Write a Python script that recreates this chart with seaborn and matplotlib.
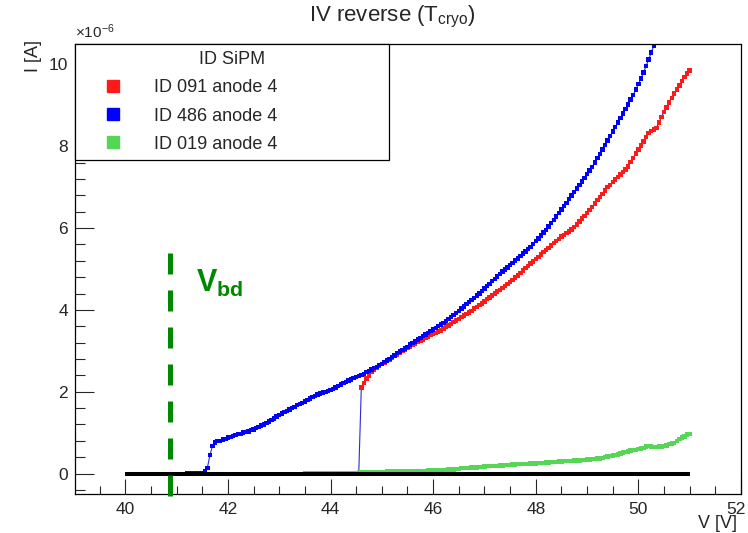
import numpy as np
import pandas as pd
import matplotlib
matplotlib.use("Agg")
import matplotlib.pyplot as plt
from matplotlib.lines import Line2D
from matplotlib.ticker import MultipleLocator
from matplotlib.transforms import ScaledTranslation
import seaborn as sns

# ---- measured reverse IV sweeps (current in units of 1e-6 A, 50 mV steps) ----
v_486 = np.round(np.arange(41.20, 50.30 + 1e-6, 0.05), 2)
i_486 = [
    0.00, 0.00, 0.01, 0.01, 0.01, 0.02, 0.02, 0.05, 0.14, 0.45,
    0.68, 0.76, 0.79, 0.80, 0.83, 0.85, 0.88, 0.90, 0.92, 0.94,
    0.96, 0.97, 1.00, 1.01, 1.03, 1.06, 1.08, 1.12, 1.14, 1.17,
    1.20, 1.24, 1.27, 1.31, 1.35, 1.39, 1.43, 1.47, 1.50, 1.53,
    1.57, 1.60, 1.63, 1.67, 1.70, 1.73, 1.76, 1.80, 1.83, 1.87,
    1.90, 1.93, 1.96, 1.98, 2.00, 2.02, 2.04, 2.07, 2.10, 2.14,
    2.18, 2.21, 2.24, 2.27, 2.30, 2.33, 2.36, 2.38, 2.41, 2.44,
    2.48, 2.51, 2.54, 2.58, 2.61, 2.65, 2.68, 2.72, 2.76, 2.80,
    2.85, 2.89, 2.94, 2.98, 3.02, 3.06, 3.10, 3.15, 3.19, 3.23,
    3.28, 3.32, 3.36, 3.40, 3.44, 3.48, 3.52, 3.56, 3.60, 3.64,
    3.68, 3.73, 3.78, 3.83, 3.88, 3.93, 3.98, 4.03, 4.08, 4.14,
    4.19, 4.24, 4.29, 4.35, 4.40, 4.46, 4.52, 4.58, 4.64, 4.70,
    4.76, 4.82, 4.88, 4.94, 4.99, 5.04, 5.10, 5.15, 5.21, 5.26,
    5.32, 5.38, 5.43, 5.49, 5.54, 5.61, 5.68, 5.75, 5.82, 5.89,
    5.96, 6.04, 6.12, 6.20, 6.28, 6.37, 6.45, 6.54, 6.62, 6.71,
    6.80, 6.88, 6.97, 7.06, 7.14, 7.23, 7.32, 7.41, 7.50, 7.60,
    7.71, 7.81, 7.92, 8.03, 8.14, 8.25, 8.36, 8.47, 8.58, 8.69,
    8.80, 8.91, 9.02, 9.14, 9.25, 9.39, 9.52, 9.66, 9.80, 9.96,
    10.12, 10.29, 10.45,
]

v_091 = np.round(np.arange(44.50, 51.00 + 1e-6, 0.05), 2)
i_091 = [
    0.00, 0.00, 2.10, 2.22, 2.32, 2.40, 2.48, 2.54, 2.59, 2.64,
    2.68, 2.71, 2.75, 2.79, 2.83, 2.87, 2.91, 2.95, 2.99, 3.03,
    3.07, 3.10, 3.14, 3.18, 3.21, 3.25, 3.28, 3.31, 3.35, 3.38,
    3.41, 3.44, 3.47, 3.50, 3.55, 3.58, 3.62, 3.66, 3.70, 3.74,
    3.78, 3.82, 3.86, 3.90, 3.94, 3.98, 4.03, 4.07, 4.12, 4.16,
    4.21, 4.26, 4.30, 4.35, 4.40, 4.45, 4.49, 4.54, 4.58, 4.63,
    4.68, 4.73, 4.79, 4.84, 4.90, 4.96, 5.02, 5.07, 5.13, 5.18,
    5.24, 5.30, 5.35, 5.41, 5.46, 5.52, 5.57, 5.63, 5.68, 5.74,
    5.79, 5.83, 5.88, 5.92, 5.97, 6.02, 6.09, 6.16, 6.23, 6.30,
    6.37, 6.44, 6.52, 6.60, 6.68, 6.76, 6.84, 6.92, 7.00, 7.06,
    7.13, 7.19, 7.25, 7.31, 7.37, 7.43, 7.51, 7.62, 7.72, 7.82,
    7.92, 8.02, 8.12, 8.23, 8.33, 8.37, 8.41, 8.45, 8.58, 8.72,
    8.84, 8.95, 9.07, 9.18, 9.29, 9.39, 9.49, 9.59, 9.69, 9.78,
    9.85,
]

v_019 = np.round(np.arange(43.50, 51.00 + 1e-6, 0.05), 2)
i_019 = [
    0.02,
    0.02, 0.02, 0.02, 0.02, 0.02, 0.02, 0.02, 0.02, 0.02, 0.02,
    0.02, 0.02, 0.02, 0.02, 0.02, 0.02, 0.02, 0.02, 0.02, 0.02,
    0.03, 0.03, 0.03, 0.03, 0.03, 0.03, 0.03, 0.03, 0.03, 0.03,
    0.04, 0.05, 0.05, 0.05, 0.05, 0.05, 0.05, 0.05, 0.05, 0.05,
    0.05, 0.05, 0.05, 0.06, 0.06, 0.06, 0.06, 0.07, 0.08, 0.08,
    0.08, 0.08, 0.09, 0.09, 0.09, 0.10, 0.10, 0.10, 0.11, 0.11,
    0.13, 0.14, 0.14, 0.14, 0.15, 0.15, 0.15, 0.16, 0.16, 0.17,
    0.18, 0.18, 0.19, 0.19, 0.19, 0.20, 0.20, 0.21, 0.21, 0.21,
    0.22, 0.22, 0.23, 0.23, 0.23, 0.24, 0.24, 0.25, 0.25, 0.25,
    0.26, 0.26, 0.26, 0.27, 0.27, 0.28, 0.28, 0.28, 0.29, 0.29,
    0.30, 0.30, 0.31, 0.31, 0.32, 0.32, 0.32, 0.33, 0.33, 0.34,
    0.34, 0.35, 0.36, 0.37, 0.37, 0.38, 0.40, 0.42, 0.43, 0.44,
    0.46, 0.47, 0.49, 0.51, 0.52, 0.54, 0.56, 0.57, 0.58, 0.60,
    0.61, 0.63, 0.66, 0.68, 0.66, 0.65, 0.65, 0.66, 0.66, 0.67,
    0.69, 0.72, 0.73, 0.74, 0.80, 0.85, 0.88, 0.91, 0.95, 0.97,
]

labels = ["ID 091 anode 4", "ID 486 anode 4", "ID 019 anode 4"]
colors = ["#ff1a1a", "#0000ff", "#55d655"]

# zero-current reference line and breakdown voltage marker
baseline_v = [40.0, 51.0]
baseline_i = [0.0, 0.0]
v_bd = 40.88
v_bd_span = (5.38, -0.59)

# ---- styling ----
sns.set_style("ticks")
plt.rcParams["font.family"] = ["Liberation Sans", "DejaVu Sans"]
plt.rcParams["mathtext.fontset"] = "custom"
plt.rcParams["mathtext.rm"] = "Liberation Sans"
plt.rcParams["mathtext.it"] = "Liberation Sans:italic"
plt.rcParams["mathtext.bf"] = "Liberation Sans:bold"

df = pd.concat([
    pd.DataFrame({"V": v_091, "I": i_091, "sensor": labels[0]}),
    pd.DataFrame({"V": v_486, "I": i_486, "sensor": labels[1]}),
    pd.DataFrame({"V": v_019, "I": i_019, "sensor": labels[2]}),
], ignore_index=True)

fig = plt.figure(figsize=(7.48, 5.33), dpi=100)
ax = fig.add_axes([75 / 748, 1 - 494 / 533, (741 - 75) / 748, (494 - 44) / 533])

# thin connecting lines of each graph, then the square markers
sns.lineplot(data=df, x="V", y="I", units="sensor", estimator=None, sort=False,
             color="#2b2bd6", linewidth=0.8, ax=ax, legend=False, zorder=1.5)
sns.scatterplot(data=df, x="V", y="I", hue="sensor", hue_order=labels,
                palette=colors, marker="s", s=10, linewidth=0, ax=ax,
                legend=False, zorder=2)

ax.plot(baseline_v, baseline_i, color="black", linewidth=2.9, zorder=3,
        solid_capstyle="butt")
ax.plot([v_bd, v_bd], list(v_bd_span), color="#008800", linewidth=3.6,
        dashes=(4.2, 3.2), clip_on=False, zorder=3, solid_capstyle="butt",
        dash_capstyle="butt")
ax.text(41.37, 4.44, r"$\mathbf{V_{bd}}$", color="#008800", fontsize=22,
        va="baseline", ha="left")

ax.set_xlim(39.02, 52.0)
ax.set_ylim(-0.5, 10.5)
ax.set_xlabel("")
ax.set_ylabel("")

ax.xaxis.set_major_locator(MultipleLocator(2))
ax.xaxis.set_minor_locator(MultipleLocator(0.5))
ax.yaxis.set_major_locator(MultipleLocator(2))
ax.yaxis.set_minor_locator(MultipleLocator(0.4))
ax.tick_params(axis="x", which="major", direction="in", length=11, width=0.8,
               labelsize=12.5, pad=6)
ax.tick_params(axis="x", which="minor", direction="in", length=5.8, width=0.8)
ax.tick_params(axis="y", which="major", direction="in", length=14, width=0.8,
               labelsize=12.5, pad=5)
ax.tick_params(axis="y", which="minor", direction="in", length=7, width=0.8)
for sp in ax.spines.values():
    sp.set_visible(True)
    sp.set_linewidth(0.9)
    sp.set_color("black")

# keep the "52" label at the right end inside the canvas
fig.canvas.draw()
for lbl in ax.get_xticklabels():
    if lbl.get_text().replace("\u2212", "-") == "52":
        lbl.set_horizontalalignment("right")
        lbl.set_transform(lbl.get_transform()
                          + ScaledTranslation(5 / 100, 0, fig.dpi_scale_trans))

ax.text(0.0, 1.006, r"$\times10^{-6}$", transform=ax.transAxes, ha="left",
        va="bottom", fontsize=11)
fig.text(0.525, 0.968, r"IV reverse (T$_{\rm cryo}$)", ha="center",
         va="center", fontsize=16)
fig.text(33 / 748, 1 - 40 / 533, "I [A]", rotation=90, ha="center", va="top",
         fontsize=13)
fig.text(737 / 748, 0.5 / 533, "V [V]", ha="right", va="bottom",
         fontsize=13)

handles = [Line2D([], [], marker="s", linestyle="none", color=c,
                  markersize=8.5) for c in colors]
leg = ax.legend(handles, labels, title="ID SiPM", loc="upper left",
                bbox_to_anchor=(0, 0, 314 / 666, 1), mode="expand",
                borderaxespad=0, borderpad=0.4, handlelength=3.4,
                handletextpad=0.56, labelspacing=0.62, fontsize=13,
                title_fontsize=13, fancybox=False, framealpha=1,
                edgecolor="black", alignment="center")
leg.get_frame().set_linewidth(0.9)
leg.set_zorder(5)

fig.savefig("out.png", dpi=100)
